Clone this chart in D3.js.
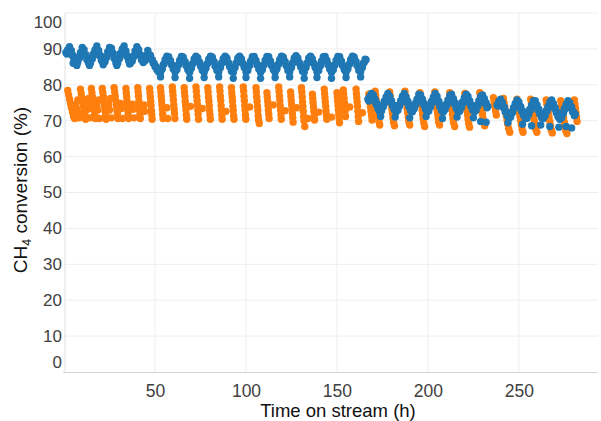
<!DOCTYPE html>
<html>
<head>
<meta charset="utf-8">
<script src="https://cdn.jsdelivr.net/npm/d3@7"></script>
<style>
  html, body { margin: 0; padding: 0; background: #ffffff; }
  svg { display: block; }
  text { font-family: "Liberation Sans", Arial, Helvetica, sans-serif; }
</style>
</head>
<body>
<svg id="chart" width="601" height="421"></svg>
<script>
// ---------- data ----------
const xTicks = [50, 100, 150, 200, 250];
const yTicks = [0, 10, 20, 30, 40, 50, 60, 70, 80, 90, 100];
const xTitle = "Time on stream (h)";

// blue series: readings on the hour (a) and on the half hour (b), per run segment
const blueSeg1Start = 1;
const blueSeg1 = [89.0, 89.8, 90.6, 89.6, 88.2, 87.0, 86.6, 87.6, 89.0, 90.4,
  89.8, 88.4, 87.2, 86.4, 87.4, 88.6, 89.8, 90.8, 89.6, 88.2,
  87.0, 86.6, 87.8, 89.2, 90.4, 90.2, 88.8, 87.4, 86.4, 87.4,
  88.8, 90.0, 90.8, 89.4, 88.0, 86.8, 86.8, 88.0, 89.4, 90.6,
  89.8, 88.4, 87.2, 86.8, 88.2, 89.6];
const blueSeg1bStart = 1.5;
const blueSeg1b = [88.6, 89.4, 89.3, 88.1, 86.8, 86.0, 86.3, 87.5, 88.9, 89.3,
  88.3, 87.0, 86.0, 86.1, 87.2, 88.4, 89.5, 89.4, 88.1, 86.8,
  86.0, 86.4, 87.7, 89.0, 89.5, 88.7, 87.3, 86.1, 86.1, 87.3,
  88.6, 89.6, 89.3, 87.9, 86.6, 86.0, 86.6, 87.9, 89.2, 89.4,
  88.3, 87.0, 86.2, 86.7, 88.1];
const blueSeg2Start = 47;
const blueSeg2 = [88.4, 87.0, 86.0, 85.0, 84.2, 83.6, 83.4, 84.4, 85.8, 87.2,
  87.8, 86.8, 85.6, 84.4, 83.6, 84.2, 85.6, 87.0, 87.8, 86.6,
  85.4, 84.2, 83.4, 84.6, 86.0, 87.4, 87.6, 86.4, 85.2, 84.0,
  83.4, 84.6, 86.0, 87.2, 87.8, 86.6, 85.2, 84.0, 83.6, 84.8,
  86.2, 87.4, 87.6, 86.2, 85.0, 83.8, 83.4, 84.8, 86.2, 87.6,
  87.4, 86.0, 84.8, 83.6, 84.0, 85.4, 86.8, 87.8, 87.0, 85.6,
  84.4, 83.4, 84.2, 85.6, 87.0, 87.8, 86.8, 85.4, 84.2, 83.4,
  84.4, 85.8, 87.2, 87.8, 86.6, 85.4, 84.0, 83.6, 84.8, 86.2,
  87.6, 87.6, 86.2, 85.0, 83.8, 83.4, 84.8, 86.2, 87.6, 87.4,
  86.0, 84.8, 83.6, 84.0, 85.4, 86.8, 87.8, 87.0, 85.6, 84.4,
  83.4, 84.2, 85.6, 87.0, 87.8, 86.8, 85.4, 84.2, 83.4, 84.4,
  85.8, 87.2, 87.8, 86.6, 85.4, 84.0, 83.6, 84.8, 86.2, 87.0];
const blueSeg2bStart = 47.5;
const blueSeg2b = [88.2, 87.0, 86.0, 85.1, 84.4, 84.0, 84.4, 85.6, 87.0, 88.0,
  87.8, 86.7, 85.5, 84.5, 84.4, 85.4, 86.8, 87.9, 87.7, 86.5,
  85.3, 84.3, 84.5, 85.8, 87.2, 88.0, 87.5, 86.3, 85.1, 84.2,
  84.5, 85.8, 87.1, 88.0, 87.7, 86.4, 85.1, 84.3, 84.7, 86.0,
  87.3, 88.0, 87.4, 86.1, 84.9, 84.1, 84.6, 86.0, 87.4, 88.0,
  87.2, 85.9, 84.7, 84.3, 85.2, 86.6, 87.8, 87.9, 86.8, 85.5,
  84.4, 84.3, 85.4, 86.8, 87.9, 87.8, 86.6, 85.3, 84.3, 84.4,
  85.6, 87.0, 88.0, 87.7, 86.5, 85.2, 84.3, 84.7, 86.0, 87.4,
  88.1, 87.4, 86.1, 84.9, 84.1, 84.6, 86.0, 87.4, 88.0, 87.2,
  85.9, 84.7, 84.3, 85.2, 86.6, 87.8, 87.9, 86.8, 85.5, 84.4,
  84.3, 85.4, 86.8, 87.9, 87.8, 86.6, 85.3, 84.3, 84.4, 85.6,
  87.0, 88.0, 87.7, 86.5, 85.2, 84.3, 84.7, 86.0, 87.1];
const blueSeg3Start = 167;
const blueSeg3 = [76.0, 76.8, 77.6, 77.2, 76.0, 74.8, 73.6, 73.0, 74.2, 75.4,
  76.6, 77.6, 76.8, 75.6, 74.4, 73.4, 73.2, 74.4, 75.6, 76.8,
  77.6, 76.6, 75.4, 74.2, 73.2, 73.6, 74.8, 76.0, 77.4, 77.2,
  76.0, 74.8, 73.6, 73.0, 74.2, 75.4, 76.6, 77.6, 76.8, 75.4,
  74.2, 73.2, 73.4, 74.6, 75.8, 77.0, 77.4, 76.2, 75.0, 73.8,
  73.0, 74.0, 75.2, 76.4, 77.4, 76.8, 75.6, 74.4, 73.4, 73.2,
  74.4, 75.6, 76.8, 77.2, 76.2, 75.0, 74.0];
const blueSeg3bStart = 167.5;
const blueSeg3b = [75.5, 76.3, 76.5, 75.7, 74.5, 73.3, 72.4, 72.7, 73.9, 75.1,
  76.2, 76.3, 75.3, 74.1, 73.0, 72.4, 72.9, 74.1, 75.3, 76.3,
  76.2, 75.1, 73.9, 72.8, 72.5, 73.3, 74.5, 75.8, 76.4, 75.7,
  74.5, 73.3, 72.4, 72.7, 73.9, 75.1, 76.2, 76.3, 75.2, 73.9,
  72.8, 72.4, 73.1, 74.3, 75.5, 76.3, 75.9, 74.7, 73.5, 72.5,
  72.6, 73.7, 74.9, 76.0, 76.2, 75.3, 74.1, 73.0, 72.4, 72.9,
  74.1, 75.3, 76.1, 75.8, 74.7, 73.6];
const blueSeg4Start = 238;
const blueSeg4 = [74.4, 75.4, 76.0, 75.0, 73.8, 72.6, 71.6, 71.2, 72.4, 73.6,
  74.8, 75.8, 75.2, 74.0, 72.8, 71.8, 71.0, 72.0, 73.2, 74.4,
  75.6, 75.6, 74.4, 73.2, 72.0, 71.2, 71.6, 72.8, 74.0, 75.2,
  75.8, 74.8, 73.6, 72.4, 71.4, 71.0, 72.2, 73.4, 74.6, 75.6,
  75.0, 73.8, 72.6, 71.8];
const blueSeg4bStart = 238.5;
const blueSeg4b = [74.1, 74.9, 74.7, 73.6, 72.4, 71.3, 70.6, 71.0, 72.2, 73.4,
  74.5, 74.7, 73.8, 72.6, 71.5, 70.6, 70.7, 71.8, 73.0, 74.2,
  74.8, 74.2, 73.0, 71.8, 70.8, 70.6, 71.4, 72.6, 73.8, 74.7,
  74.5, 73.4, 72.2, 71.1, 70.4, 70.8, 72.0, 73.2, 74.3, 74.5,
  73.6, 72.4, 71.4];
const blueOutliers = [[5, 86.0], [7, 85.4], [14, 85.4], [21.5, 85.6], [29, 85.4], [36, 85.8],
  [53, 82.2], [61, 82.0], [69, 81.8], [77, 82.0], [85, 82.2], [93, 81.8], [100, 82.0],
  [108, 81.8], [116, 82.0], [124, 82.2], [132, 81.8], [139, 82.0], [147, 81.8], [155, 82.0], [163, 82.2],
  [174, 71.2], [182, 71.0], [190, 70.8], [199, 71.2], [208, 70.6], [216, 71.0], [225, 70.8], [229, 69.8], [232, 69.6],
  [244, 69.4], [252, 69.0], [257, 68.6], [262, 68.8], [267, 68.4], [272, 68.2], [276, 68.4], [279, 68.0]];

// orange series: [time (h), conversion (%)]
const orangeSeg12 = [
  [2.0,78.4],[2.5,77.2],[3.0,76.0],[3.5,74.8],[4.0,73.6],[4.6,72.4],[5.2,71.2],
  [9.0,78.8],[9.4,77.6],[9.8,76.4],[10.2,75.2],[10.6,74.0],[11.0,72.8],[11.4,71.6],[11.8,70.4],
  [15.0,79.0],[15.3,77.8],[15.6,76.6],[15.9,75.4],[16.2,74.2],[16.5,73.0],[16.8,71.8],[17.1,70.6],
  [21.0,79.0],[21.3,77.8],[21.6,76.6],[21.9,75.2],[22.2,74.0],[22.5,72.8],[22.8,71.6],[23.1,70.4],
  [27.5,79.2],[27.8,78.0],[28.1,76.8],[28.4,75.6],[28.7,74.4],[29.0,73.2],[29.3,72.0],[29.6,70.6],
  [34.0,79.0],[34.2,77.8],[34.4,76.6],[34.6,75.4],[34.8,74.2],[35.0,73.0],[35.2,71.8],[35.4,70.6],
  [40.5,79.2],[40.7,78.0],[40.9,76.8],[41.1,75.4],[41.3,74.2],[41.5,73.0],[41.7,71.8],[41.9,70.6],
  [47.0,79.0],[47.2,77.8],[47.4,76.6],[47.6,75.4],[47.8,74.2],[48.0,72.8],[48.2,71.6],[48.4,70.4],
  [53.0,79.2],[53.2,78.0],[53.4,76.8],[53.6,75.6],[53.8,74.4],[54.0,73.2],[54.2,71.8],[54.4,70.6],
  [59.5,79.4],[59.7,78.2],[59.9,77.0],[60.1,75.8],[60.3,74.4],[60.5,73.2],[60.7,72.0],[60.9,70.6],
  [66.0,79.2],[66.2,78.0],[66.4,76.8],[66.6,75.4],[66.8,74.2],[67.0,73.0],[67.2,71.6],[67.4,70.4],
  [72.5,79.4],[72.7,78.2],[72.9,76.8],[73.1,75.6],[73.3,74.4],[73.5,73.0],[73.7,71.8],[73.9,70.4],
  [79.0,79.2],[79.2,78.0],[79.4,76.6],[79.6,75.4],[79.8,74.2],[80.0,72.8],[80.2,71.6],[80.4,70.4],
  [85.5,79.4],[85.7,78.2],[85.9,76.8],[86.1,75.6],[86.3,74.2],[86.5,73.0],[86.7,71.6],[86.9,70.4],
  [92.0,79.2],[92.2,77.8],[92.4,76.6],[92.6,75.4],[92.8,74.0],[93.0,72.8],[93.2,71.4],[93.4,70.4],
  [98.5,79.4],[98.7,78.2],[98.9,76.8],[99.1,75.6],[99.3,74.2],[99.5,73.0],[99.7,71.6],[99.9,70.4],
  [105.5,79.2],[105.7,78.0],[105.9,76.6],[106.1,75.4],[106.3,74.0],[106.5,72.8],[106.7,71.4],[106.9,70.2],[107.3,69.2],
  [111.5,77.8],[111.7,76.6],[111.9,75.4],[112.1,74.2],[112.3,73.0],[112.5,71.8],[112.7,70.6],
  [118.0,79.4],[118.2,78.2],[118.4,76.8],[118.6,75.6],[118.8,74.2],[119.0,73.0],[119.2,71.6],[119.4,70.4],
  [124.5,78.0],[124.7,76.8],[124.9,75.6],[125.1,74.4],[125.3,73.2],[125.5,72.0],[125.7,70.8],[125.9,69.6],
  [130.5,79.2],[130.7,78.0],[130.9,76.6],[131.1,75.2],[131.3,74.0],[131.5,72.6],[131.7,71.2],[131.9,70.0],[132.3,68.4],
  [136.5,77.4],[136.7,76.2],[136.9,75.0],[137.1,73.8],[137.3,72.6],[137.5,71.4],[137.7,70.2],
  [143.0,78.8],[143.2,77.6],[143.4,76.4],[143.6,75.2],[143.8,74.0],[144.0,72.8],[144.2,71.6],[144.4,70.4],
  [150.0,77.8],[150.2,76.6],[150.4,75.4],[150.6,74.2],[150.8,73.0],[151.0,71.8],[151.2,70.6],[151.4,69.4],
  [153.5,78.6],[153.7,77.4],[153.9,76.2],[154.1,75.0],[154.3,73.8],[154.5,72.6],[154.7,71.2],
  [160.5,78.8],[160.7,77.6],[160.9,76.4],[161.1,75.2],[161.3,74.0],[161.5,72.6],[161.7,71.2],[161.9,69.8]
];
const orangeExtra = [[5.8,70.6],[6.5,74.6],[7.0,73.2],[7.5,75.8],[8.0,72.0],[8.3,70.8],
  [12.5,74.8],[13.0,73.2],[13.5,76.2],[14.0,70.8],[18.0,74.4],[18.5,73.0],[19.0,75.8],[19.5,70.6],
  [24.5,74.6],[25.0,73.0],[25.5,76.2],[26.0,70.8],[31.0,74.8],[31.5,73.4],[32.0,70.6],
  [37.5,74.6],[38.0,73.2],[38.5,70.8],[44.0,74.4],[44.5,72.6],[56.5,73.6],[57.0,70.6],
  [69.5,74.0],[76.0,73.4],[89.0,72.6],[102.0,73.8],[115.0,74.4],[121.5,72.8],[128.0,73.6],
  [134.0,70.6],[140.0,72.4],[147.0,71.0],[157.0,73.8],[164.0,72.2]];
const orangeSeg3 = [
  [167.5,77.4],[167.8,76.2],[168.1,75.0],[168.4,73.8],[168.7,72.6],[169.0,71.4],[169.3,70.2],
  [171.0,78.2],[171.3,77.0],[171.6,75.8],[171.9,74.6],[172.2,73.4],[172.5,72.2],[172.8,71.0],[173.1,69.8],[173.5,68.8],
  [179.0,78.0],[179.3,76.8],[179.6,75.6],[179.9,74.4],[180.2,73.2],[180.5,72.0],[180.8,70.8],[181.1,69.6],[181.6,68.6],
  [187.4,78.2],[187.7,77.0],[188.0,75.8],[188.3,74.6],[188.6,73.4],[188.9,72.2],[189.2,71.0],[189.5,69.8],[190.0,68.8],
  [195.6,77.8],[195.9,76.6],[196.2,75.4],[196.5,74.2],[196.8,73.0],[197.1,71.8],[197.4,70.6],[197.7,69.4],[198.2,68.4],
  [203.8,78.0],[204.1,76.8],[204.4,75.6],[204.7,74.4],[205.0,73.2],[205.3,72.0],[205.6,70.8],[205.9,69.6],[206.4,68.8],
  [212.0,77.8],[212.3,76.6],[212.6,75.4],[212.9,74.2],[213.2,73.0],[213.5,71.8],[213.8,70.6],[214.1,69.4],[214.7,68.4],
  [220.3,77.6],[220.6,76.4],[220.9,75.2],[221.2,74.0],[221.5,72.8],[221.8,71.6],[222.1,70.4],[222.4,69.2],[222.9,68.2],
  [228.5,77.8],[228.8,76.6],[229.1,75.4],[229.4,74.2],[229.7,73.0],[230.0,71.8],[230.3,70.6],[230.6,69.4],[231.2,68.6]
];
const orangeSeg4 = [
  [236.0,76.4],[236.4,75.2],[236.8,74.0],[237.2,72.8],[237.6,71.6],
  [241.5,76.2],[241.9,75.0],[242.3,73.8],[242.7,72.6],[243.1,71.4],[243.5,70.2],[243.9,69.0],[244.4,67.8],[245.0,66.8],
  [249.0,76.0],[249.4,74.8],[249.8,73.6],[250.2,72.4],[250.6,71.2],[251.0,70.0],[251.4,68.8],[251.8,67.6],[252.3,66.8],
  [256.5,76.0],[256.9,74.8],[257.3,73.6],[257.7,72.4],[258.1,71.2],[258.5,70.0],[258.9,68.8],[259.3,67.6],[259.9,66.8],
  [265.0,75.8],[265.4,74.6],[265.8,73.4],[266.2,72.2],[266.6,71.0],[267.0,69.8],[267.4,68.6],[267.8,67.4],[268.4,66.6],
  [273.0,75.6],[273.4,74.4],[273.8,73.2],[274.2,72.0],[274.6,70.8],[275.0,69.6],[275.4,68.4],[275.8,67.2],[276.4,66.4],
  [280.5,75.8],[280.8,74.6],[281.1,73.4],[281.4,72.2],[281.7,71.0],[282.0,69.8]
];

// ---------- build point tables ----------
function hourly(start, vals) { return vals.map((v, i) => [start + i, v]); }
const bluePts = [].concat(
  hourly(blueSeg1Start, blueSeg1), hourly(blueSeg1bStart, blueSeg1b),
  hourly(blueSeg2Start, blueSeg2), hourly(blueSeg2bStart, blueSeg2b),
  hourly(blueSeg3Start, blueSeg3), hourly(blueSeg3bStart, blueSeg3b),
  hourly(blueSeg4Start, blueSeg4), hourly(blueSeg4bStart, blueSeg4b),
  blueOutliers);
const orangePts = [].concat(orangeSeg12, orangeExtra, orangeSeg3, orangeSeg4);

// ---------- layout ----------
const plot = { left: 65, right: 598, top: 13, bottom: 372 };
const svg = d3.select("#chart");

const x = d3.scaleLinear().domain([0.5, 293.5]).range([plot.left, plot.right]);
const y = d3.scaleLinear().domain([0, 100]).range([plot.bottom, plot.top]);

// gridlines
const grid = svg.append("g");
grid.selectAll("line.vx").data(xTicks).join("line")
  .attr("x1", d => x(d)).attr("x2", d => x(d))
  .attr("y1", plot.top).attr("y2", plot.bottom)
  .attr("stroke", "#eeeeee").attr("stroke-width", 1);
grid.selectAll("line.hy").data(yTicks.filter(d => d > 0)).join("line")
  .attr("x1", plot.left).attr("x2", plot.right)
  .attr("y1", d => y(d)).attr("y2", d => y(d))
  .attr("stroke", "#eeeeee").attr("stroke-width", 1);

// axis lines
svg.append("line").attr("x1", plot.left).attr("x2", plot.left)
  .attr("y1", plot.top).attr("y2", plot.bottom)
  .attr("stroke", "#e0e0e0").attr("stroke-width", 1);
svg.append("line").attr("x1", plot.left - 2).attr("x2", plot.right)
  .attr("y1", plot.bottom + 0.5).attr("y2", plot.bottom + 0.5)
  .attr("stroke", "#d4d4d4").attr("stroke-width", 1);

// axes via d3 (tick text only)
const xAxis = d3.axisBottom(x).tickValues(xTicks).tickSize(0).tickPadding(0);
const gx = svg.append("g").attr("transform", `translate(0,${plot.bottom + 25})`).call(xAxis);
gx.select(".domain").remove();
gx.selectAll("text").attr("dy", 0).attr("font-size", 17.5).attr("fill", "#404040")
  .attr("font-family", "Liberation Sans, Arial, sans-serif");

const yAxis = d3.axisLeft(y).tickValues(yTicks).tickSize(0).tickPadding(0);
const gy = svg.append("g").attr("transform", `translate(${plot.left - 3},0)`).call(yAxis);
gy.select(".domain").remove();
gy.selectAll(".tick").attr("transform", d => {
  let py = y(d);
  py = Math.max(plot.top + 9, Math.min(plot.bottom - 10, py));
  return `translate(0,${py})`;
});
gy.selectAll("text").attr("dy", "0.35em").attr("font-size", 17).attr("fill", "#404040")
  .attr("font-family", "Liberation Sans, Arial, sans-serif");

// points
const R = 3.7;
svg.append("g").selectAll("circle").data(orangePts).join("circle")
  .attr("cx", d => x(d[0])).attr("cy", d => y(d[1])).attr("r", R)
  .attr("fill", "#ff7f0e");
svg.append("g").selectAll("circle").data(bluePts).join("circle")
  .attr("cx", d => x(d[0])).attr("cy", d => y(d[1])).attr("r", R)
  .attr("fill", "#1f77b4");

// titles
svg.append("text").attr("x", 338).attr("y", 417).attr("text-anchor", "middle")
  .attr("font-size", 18.5).attr("fill", "#111").text(xTitle);

const yt = svg.append("text").attr("transform", "translate(27,190) rotate(-90)")
  .attr("text-anchor", "middle").attr("font-size", 19).attr("fill", "#111");
yt.append("tspan").text("CH");
yt.append("tspan").attr("font-size", 12.5).attr("dy", 4).text("4");
yt.append("tspan").attr("dy", -4).text(" conversion (%)");
</script>
</body>
</html>
